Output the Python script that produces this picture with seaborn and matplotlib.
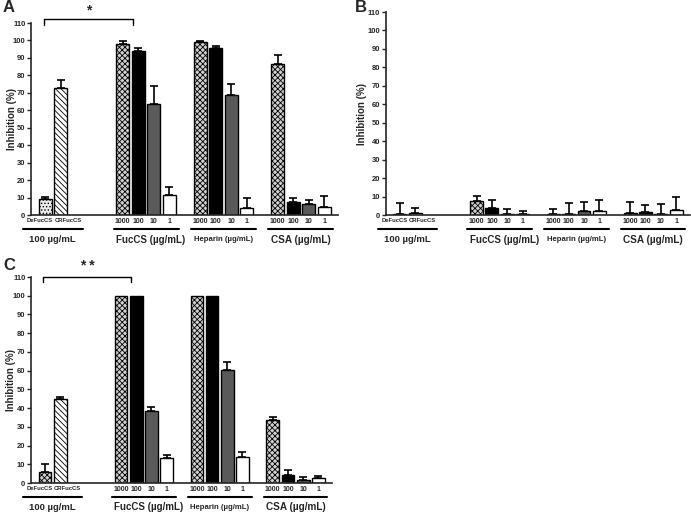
import matplotlib
matplotlib.use('Agg')
import matplotlib.pyplot as plt
import numpy as np
import pandas as pd
import seaborn as sns

sns.set_style('ticks')
plt.rcParams['font.family'] = ['Liberation Sans', 'DejaVu Sans']
plt.rcParams['font.weight'] = 'bold'
plt.rcParams['hatch.linewidth'] = 0.6

# data (inhibition %, mean and upper SEM)
groups = ['100 µg/mL', 'FucCS (µg/mL)', 'Heparin (µg/mL)', 'CSA (µg/mL)']
group_ticks = [['DeFucCS', 'CRFucCS'],
               ['1000', '100', '10', '1'],
               ['1000', '100', '10', '1'],
               ['1000', '100', '10', '1']]

a_vals = [9.2, 72.5, 97.8, 94.0, 63.5, 11.5, 99.3, 95.5, 69.0, 4.0, 86.5, 7.2, 6.5, 4.3]
a_err = [1.2, 4.8, 2.0, 1.6, 10.5, 4.8, 0.3, 1.2, 5.8, 5.5, 5.3, 2.5, 2.2, 6.5]
b_vals = [0.5, 1.2, 7.4, 4.0, 0.8, 0.8, 0.6, 0.8, 2.2, 2.2, 1.1, 1.7, 0.8, 2.9]
b_err = [6.0, 2.6, 3.1, 4.3, 2.5, 1.2, 2.7, 5.5, 4.8, 5.8, 5.7, 3.7, 5.4, 7.1]
c_vals = [5.9, 44.9, 100, 100, 38.3, 13.1, 100, 100, 60.3, 14.0, 33.4, 4.1, 1.4, 2.7]
c_err = [4.4, 1.2, 0, 0, 2.3, 1.6, 0, 0, 4.1, 2.3, 1.6, 2.6, 1.6, 1.2]

# layout: empty slots before each group
gaps = [0, 3, 1, 1]
pos = []
g_span = []
cur = 0
for g, ticks in enumerate(group_ticks):
    cur += gaps[g]
    g_span.append((cur, cur + len(ticks) - 1))
    pos += list(range(cur, cur + len(ticks)))
    cur += len(ticks)
labels = [t for ticks in group_ticks for t in ticks]
# the two long names sit off-centre under their bars
tick_pos = list(pos)
tick_pos[0] -= 0.35
tick_pos[1] += 0.45

checker = ('#d0d0d0', 'xxxxxx')
conc_style = [checker, ('black', ''), ('#5a5a5a', ''), ('white', '')]
first_styles = {
    'A': [('#ececec', '.....'), ('white', '\\\\\\\\\\\\')],
    'B': [('white', ''), ('#e0e0e0', '.....')],
    'C': [checker, ('white', '\\\\\\\\\\\\')],
}
group_fs = [6.8, 7, 5.6, 7.2]

W, H = 691, 514
fig = plt.figure(figsize=(W / 100, H / 100), dpi=100)

# panel boxes in pixels: left, right, top(110), bottom(0), ylabel right edge
panels = {
    'A': (a_vals, a_err, (31, 338, 23, 215), (3, 8), 17),
    'B': (b_vals, b_err, (385.5, 690, 12, 215), (355, 8), 367),
    'C': (c_vals, c_err, (31, 332, 277, 483), (3, 265), 16),
}

for name, (vals, errs, (l, r, t, b), letter, ylx) in panels.items():
    ax = fig.add_axes([l / W, 1 - b / H, (r - l) / W, (b - t) / H])
    ax_h = b - t
    df = pd.DataFrame({'pos': pos, 'val': vals})
    sns.barplot(data=df, x='pos', y='val', native_scale=True, width=0.84,
                errorbar=None, ax=ax, color='white')
    styles = first_styles[name] + conc_style * 3
    bars = sorted(ax.patches, key=lambda p: p.get_x())
    for bar, (fc, hatch) in zip(bars, styles):
        bar.set_facecolor(fc)
        bar.set_hatch(hatch)
        bar.set_edgecolor('black')
        bar.set_linewidth(1.0)

    p = np.array(pos)
    e = np.array(errs)
    v = np.array(vals)
    m = e > 0
    ax.errorbar(p[m], v[m], yerr=[np.zeros(m.sum()), e[m]], fmt='none',
                ecolor='black', elinewidth=1.2, capsize=3, capthick=1.2)

    ax.set_xlim(-0.93, 18.9)
    ax.set_ylim(0, 110)
    ax.set_yticks(range(0, 111, 10))
    ax.tick_params(axis='y', labelsize=5.5, length=3, width=1, pad=1)
    ax.set_xticks(tick_pos)
    ax.set_xticklabels(labels)
    ax.tick_params(axis='x', length=0, pad=2)
    for lab in ax.get_xticklabels():
        lab.set_fontsize(4.2 if 'Fuc' in lab.get_text() else 5)
    ax.set_xlabel('')
    ax.set_ylabel('Inhibition (%)', fontsize=7, fontweight='bold')
    ax.yaxis.set_label_coords((ylx - l) / (r - l), 0.5)
    sns.despine(ax=ax)
    for s in ['left', 'bottom']:
        ax.spines[s].set_linewidth(1.2)

    # group underlines and labels
    tr = ax.get_xaxis_transform()
    line_y = -14 / ax_h
    text_y = -24.5 / ax_h
    for g, (s0, s1) in enumerate(g_span):
        x0 = s0 - (1.45 if g == 0 else 0.6)
        x1 = s1 + (1.4 if g == 0 else 0.6)
        ax.plot([x0, x1], [line_y, line_y], color='black', lw=1.5,
                transform=tr, clip_on=False)
        ax.text((x0 + x1) / 2 + (0.3 if g == 1 else 0), text_y, groups[g],
                transform=tr, ha='center', va='center', fontweight='bold',
                fontsize=group_fs[g])

    fig.text(letter[0] / W, 1 - letter[1] / H, name, fontsize=12,
             fontweight='bold', ha='left', va='center')

    # significance bracket
    if name in ('A', 'C'):
        fp = g_span[1][0]
        if name == 'A':
            yb, ye, ys, star = 112.1, 108.9, 117.0, '*'
        else:
            yb, ye, ys, star = 110.0, 107.5, 116.0, '* *'
        ax.plot([-0.12, -0.12, fp + 0.65, fp + 0.65], [ye, yb, yb, ye],
                color='black', lw=1.0, clip_on=False)
        ax.text((fp + 0.53) / 2, ys, star, ha='center', va='center',
                fontsize=10, fontweight='bold', clip_on=False)

fig.savefig('out.png', dpi=100)
